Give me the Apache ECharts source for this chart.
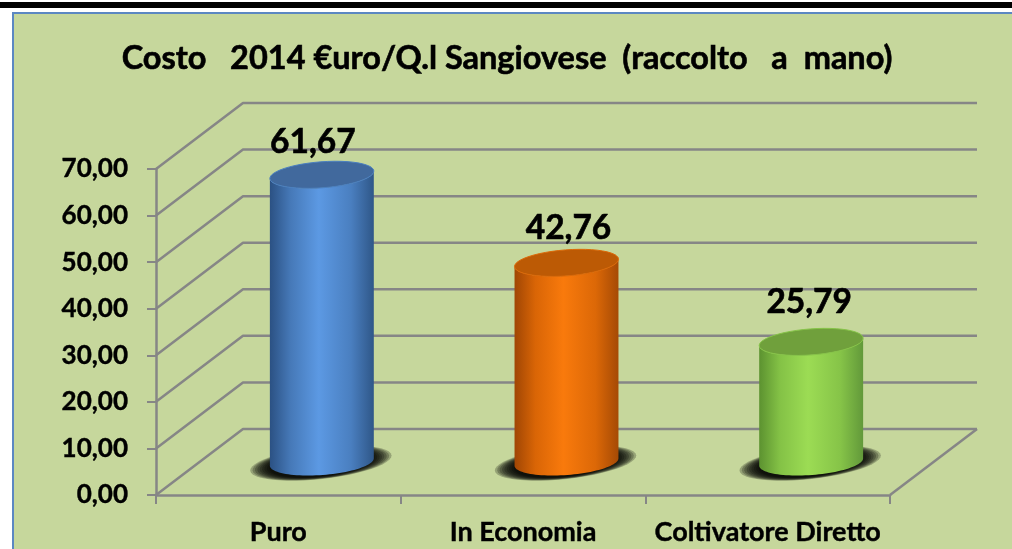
<!DOCTYPE html>
<html>
<head>
<meta charset="utf-8">
<title>Costo 2014</title>
<script src="https://cdn.jsdelivr.net/npm/echarts@6/dist/echarts.min.js"></script>
<style>
  html, body { margin: 0; padding: 0; background: #fff; }
  #main { width: 1012px; height: 549px; }
</style>
</head>
<body>
<div id="main"></div>
<script>
const categories = ['Puro', 'In Economia', 'Coltivatore Diretto']
const costs = [61.67, 42.76, 25.79]
const yTicks = [0, 10, 20, 30, 40, 50, 60, 70]
const titleText = 'Costo   2014 €uro/Q.l Sangiovese  (raccolto   a  mano)'

// edge, half, centre, half, edge
const bodyColors = [
  ['#2b5183', '#4679b8', '#5c99e3', '#4a7fc0', '#2f5788'],
  ['#a04604', '#d96506', '#f97a0c', '#dc6807', '#a54a05'],
  ['#5c9230', '#84c246', '#9cdc54', '#86c448', '#62993a']
]
const capColors = ['#41699d', '#bc5a05', '#70a03c']

// fake 3D: how far the back wall sits from the front plane
const depthX = 87
const depthY = -66
const labelNudgeX = [-9, 2, -2]
const labelNudgeY = [-33, -35, -40]
const FONT = 'Lato, Carlito, sans-serif'
const GRID_COLOR = '#868686'

function fmt(v) {
  return v.toFixed(2).replace('.', ',')
}

function ellipsePoints(cx, cy, rx, ry, tilt, from, to) {
  const pts = []
  const steps = 48
  for (let i = 0; i <= steps; i++) {
    const t = from + (to - from) * i / steps
    const px = rx * Math.cos(t)
    const py = ry * Math.sin(t)
    pts.push([
      cx + px * Math.cos(tilt) - py * Math.sin(tilt),
      cy + px * Math.sin(tilt) + py * Math.cos(tilt)
    ])
  }
  return pts
}

function renderWalls(params, api) {
  const sys = params.coordSys
  const y = api.coord([0, api.value(1)])[1]
  const children = [{
    type: 'polyline',
    shape: {
      points: [
        [sys.x, y],
        [sys.x + depthX, y + depthY],
        [sys.x + sys.width + depthX, y + depthY]
      ]
    },
    style: { stroke: GRID_COLOR, lineWidth: 2.5, fill: null, lineJoin: 'round' }
  }]
  if (api.value(1) === 0) {
    children.push({
      type: 'line',
      shape: {
        x1: sys.x + sys.width, y1: y,
        x2: sys.x + sys.width + depthX, y2: y + depthY
      },
      style: { stroke: GRID_COLOR, lineWidth: 2.5 }
    })
  }
  return { type: 'group', children }
}

function renderCylinder(params, api) {
  const i = api.value(0)
  const band = api.size([1, 0])[0]
  const rx = band * 0.213
  const ry = 13
  const tilt = -0.075
  const top = api.coord([i, api.value(1)])
  const base = api.coord([i, 0])
  const cx = top[0] + depthX / 2
  const topY = top[1] + depthY / 2
  const baseY = base[1] + depthY / 2
  const body = ellipsePoints(cx, baseY, rx, ry, tilt, Math.PI, 0)
    .concat(ellipsePoints(cx, topY, rx, ry, tilt, 0, Math.PI))
  const stops = bodyColors[i]

  // soft shadow under the base, stacked ellipses fading outwards
  const children = []
  for (let k = 0; k < 9; k++) {
    children.push({
      type: 'polygon',
      shape: {
        points: ellipsePoints(cx - 1, baseY + 1, rx + 19 - k * 2.4, ry + 3 - k * 0.3, -0.11, 0, Math.PI * 2)
      },
      style: { fill: '#000', opacity: 0.24 }
    })
  }
  children.push(
    {
      type: 'polygon',
      shape: { points: body },
      style: {
        fill: new echarts.graphic.LinearGradient(0, 0, 1, 0, [
          { offset: 0, color: stops[0] },
          { offset: 0.2, color: stops[1] },
          { offset: 0.47, color: stops[2] },
          { offset: 0.78, color: stops[3] },
          { offset: 1, color: stops[4] }
        ])
      }
    },
    {
      type: 'polygon',
      shape: { points: ellipsePoints(cx, topY, rx, ry, tilt, 0, Math.PI * 2) },
      style: { fill: capColors[i], stroke: stops[3], lineWidth: 1 }
    },
    {
      type: 'text',
      x: cx + labelNudgeX[i],
      y: topY + labelNudgeY[i],
      style: {
        text: fmt(api.value(1)),
        font: 'bold 33.5px ' + FONT,
        fill: '#000',
        stroke: '#000',
        lineWidth: 0.6,
        align: 'center',
        verticalAlign: 'middle'
      }
    }
  )
  return { type: 'group', children }
}

const chart = echarts.init(document.getElementById('main'))
chart.setOption({
  animation: false,
  backgroundColor: '#fff',
  graphic: [
    { type: 'rect', z: -10, shape: { x: 0, y: 2, width: 1012, height: 6 }, style: { fill: '#000' } },
    {
      type: 'rect',
      z: -10,
      shape: { x: 13, y: 13, width: 1040, height: 580 },
      style: { fill: '#c6d79c', stroke: '#5b87c2', lineWidth: 2 }
    }
  ],
  title: {
    text: titleText,
    left: 502,
    top: 37,
    textAlign: 'center',
    textStyle: {
      fontFamily: FONT,
      fontWeight: 'bold',
      fontSize: 32.5,
      color: '#000',
      textBorderColor: '#000',
      textBorderWidth: 0.6
    }
  },
  grid: { left: 156, right: 122, top: 169, bottom: 54 },
  xAxis: {
    type: 'category',
    data: categories,
    axisLine: { lineStyle: { color: GRID_COLOR, width: 2.5 } },
    axisTick: { show: true, alignWithLabel: false, length: 9, lineStyle: { color: GRID_COLOR, width: 2 } },
    axisLabel: {
      interval: 0,
      margin: 24,
      color: '#000',
      fontFamily: FONT,
      fontWeight: 'bold',
      fontSize: 27,
      textBorderColor: '#000',
      textBorderWidth: 0.4
    }
  },
  yAxis: {
    type: 'value',
    min: yTicks[0],
    max: yTicks[yTicks.length - 1],
    interval: 10,
    splitLine: { show: false },
    axisLine: { show: true, lineStyle: { color: GRID_COLOR, width: 2.5 } },
    axisTick: { show: true, length: 9, lineStyle: { color: GRID_COLOR, width: 2 } },
    axisLabel: {
      margin: 28,
      padding: [5, 0, 0, 0],
      color: '#000',
      fontFamily: FONT,
      fontWeight: 'bold',
      fontSize: 26,
      textBorderColor: '#000',
      textBorderWidth: 0.4,
      formatter: fmt
    }
  },
  series: [
    {
      type: 'custom',
      z: 1,
      clip: false,
      silent: true,
      data: yTicks.map((v) => [0, v]),
      renderItem: renderWalls
    },
    {
      type: 'custom',
      z: 3,
      clip: false,
      silent: true,
      data: categories.map((c, i) => [i, costs[i]]),
      renderItem: renderCylinder
    }
  ]
})
</script>
</body>
</html>
